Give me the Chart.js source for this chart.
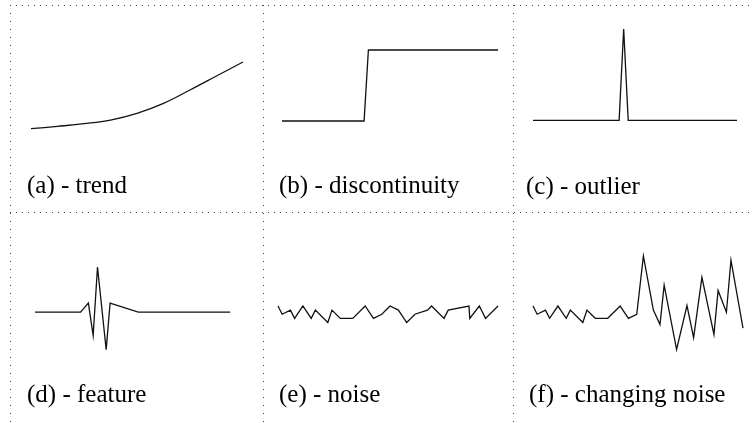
<!DOCTYPE html>
<html>
<head>
<meta charset="utf-8">
<script src="https://cdn.jsdelivr.net/npm/chart.js@4/dist/chart.umd.min.js"></script>
<style>
  html, body { margin: 0; padding: 0; background: #fff; }
  #stage { position: relative; width: 752px; height: 423px; overflow: hidden; }
  #grid { position: absolute; left: 0; top: 0; }
  .panel { position: absolute; }
  .label {
    position: absolute;
    font-family: "Liberation Serif", "Times New Roman", serif;
    font-size: 25px;
    line-height: 25px;
    color: #000;
    white-space: nowrap;
  }
</style>
</head>
<body>
<div id="stage">
  <canvas id="grid" width="752" height="423"></canvas>
</div>
<script>
// (a) smooth upward trend
const trendX = [0, 1, 2, 3, 4, 5, 6, 7, 8];
const trendY = [0, 0.35, 0.75, 1.3, 2.3, 3.8, 5.8, 7.9, 10];

// (b) step change
const stepX = [0, 19, 20, 50];
const stepY = [0, 0, 10, 10];

// (c) single spike
const outlierX = [0, 19, 20, 21, 45];
const outlierY = [0, 0, 10, 0, 0];

// (d) short oscillating burst
const featureX = [0, 10.5, 12.3, 13.4, 14.4, 16.4, 17.3, 23.8, 45];
const featureY = [0, 0, 2, -5.2, 10, -8.3, 2, 0, 0];

// (e) steady noise
const noiseX = [0, 1, 3, 4, 6, 8, 9, 12, 13, 15, 18, 21, 23, 25, 27, 29, 31, 33, 36, 37, 40, 41, 46, 46.2, 48.5, 50, 53];
const noiseY = [2, 0, 1, -1, 2, -1, 1, -2, 1, -1, -1, 2, -1, 0, 2, 1, -2, 0, 1, 2, -1, 1, 2, -1, 2, -1, 2];

// (f) noise whose amplitude grows half way through
const changingX = [0, 1, 3, 4, 6, 8, 9, 12, 13, 15, 18, 21, 23, 25, 26.6, 29, 30.6, 31.6, 34.6, 37.1, 38.7, 40.7, 43.6, 44.6, 46.6, 47.7, 50.6];
const changingY = [2, 0, 1, -1, 2, -1, 1, -2, 1, -1, -1, 2, -1, 0, 14.2, 1, -2.5, 7.1, -8.6, 2.1, -5.7, 9, -4.9, 5.8, 0.5, 13.2, -3.4];

const labels = ['(a) - trend', '(b) - discontinuity', '(c) - outlier',
                '(d) - feature', '(e) - noise', '(f) - changing noise'];

// plot box (page px) = [left, top, width, height], plus the data range it spans
const panels = [
  { xs: trendX,    ys: trendY,    box: [30.7, 62.3, 212, 66.7],  xr: [0, 8],    yr: [0, 10],     tension: 0.4, lab: [27, 172] },
  { xs: stepX,     ys: stepY,     box: [282.3, 50, 216, 71],     xr: [0, 50],   yr: [0, 10],     lab: [279, 172] },
  { xs: outlierX,  ys: outlierY,  box: [533.3, 29.3, 204, 91.4], xr: [0, 45],   yr: [0, 10],     lab: [526, 173] },
  { xs: featureX,  ys: featureY,  box: [34.7, 266.7, 195.3, 82.6], xr: [0, 45], yr: [-8.3, 10],  lab: [27, 381] },
  { xs: noiseX,    ys: noiseY,    box: [278.3, 306, 220, 16.5],  xr: [0, 53],   yr: [-2, 2],     lab: [279, 381] },
  { xs: changingX, ys: changingY, box: [533.3, 256.1, 210, 93.5], xr: [0, 50.6], yr: [-8.6, 14.2], lab: [529, 381] }
];

// dotted cell dividers
const g = document.getElementById('grid').getContext('2d');
g.strokeStyle = '#444';
g.lineWidth = 1;
function dotted(x1, y1, x2, y2, gap) {
  g.setLineDash([1, gap]);
  g.beginPath();
  g.moveTo(x1, y1);
  g.lineTo(x2, y2);
  g.stroke();
}
dotted(10, 5.5, 752, 5.5, 5);
dotted(10, 212.5, 752, 212.5, 5);
[10.5, 263.5, 513.5].forEach(x => dotted(x, 5, x, 423, 7));

const stage = document.getElementById('stage');
const pad = 4;

panels.forEach((p, i) => {
  const [bx, by, bw, bh] = p.box;
  const cw = Math.ceil(bw + 2 * pad);
  const ch = Math.ceil(bh + 2 * pad);
  const cv = document.createElement('canvas');
  cv.className = 'panel';
  cv.width = cw;
  cv.height = ch;
  cv.style.left = (bx - pad) + 'px';
  cv.style.top = (by - pad) + 'px';
  stage.appendChild(cv);

  new Chart(cv.getContext('2d'), {
    type: 'scatter',
    data: {
      datasets: [{
        data: p.xs.map((x, k) => ({ x: x, y: p.ys[k] })),
        showLine: true,
        borderColor: '#111',
        borderWidth: 1.3,
        pointRadius: 0,
        tension: p.tension || 0,
        clip: false
      }]
    },
    options: {
      responsive: false,
      animation: false,
      events: [],
      layout: { padding: { left: pad, top: pad, right: cw - bw - pad, bottom: ch - bh - pad } },
      plugins: { legend: { display: false }, tooltip: { enabled: false } },
      scales: {
        x: { type: 'linear', display: false, min: p.xr[0], max: p.xr[1] },
        y: { type: 'linear', display: false, min: p.yr[0], max: p.yr[1] }
      }
    }
  });

  const lab = document.createElement('div');
  lab.className = 'label';
  lab.textContent = labels[i];
  lab.style.left = p.lab[0] + 'px';
  lab.style.top = p.lab[1] + 'px';
  stage.appendChild(lab);
});
</script>
</body>
</html>
